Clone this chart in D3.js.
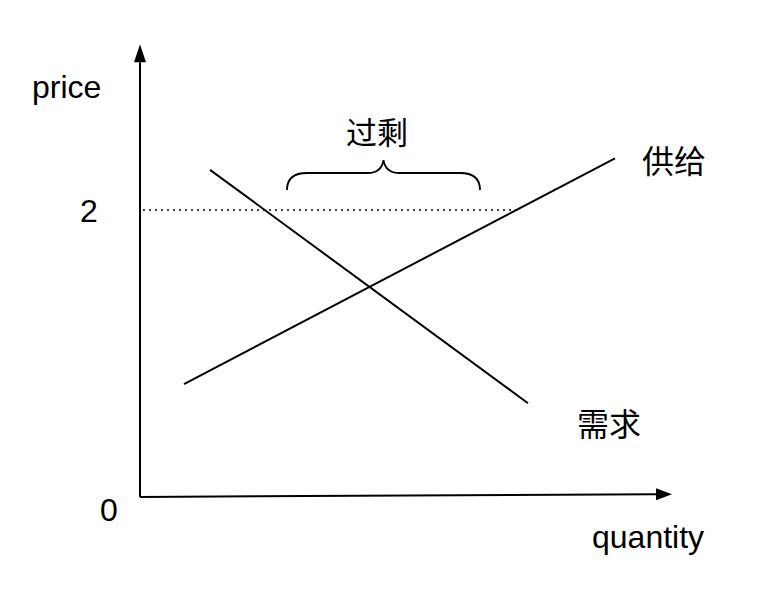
<!DOCTYPE html>
<html>
<head>
<meta charset="utf-8">
<script src="https://cdn.jsdelivr.net/npm/d3@7"></script>
<style>
html,body{margin:0;padding:0;background:#fff;}
svg{display:block;}
</style>
</head>
<body>
<svg id="chart" width="768" height="596"></svg>
<script>
// ---- data ----
const demandQ = [0.70, 3.88];
const demandP = [2.28, 0.653];
const supplyQ = [0.44, 4.75];
const supplyP = [0.787, 2.36];
const priceLevel = 2;
const priceLineQ = [0.03, 3.81];
const surplusQ = [1.47, 3.40];
const yTickValues = [0, 2];
const yTickLabels = ["0", "2"];
const axisLabels = ["price", "quantity"];
const curveLabels = ["供给", "需求"];
const surplusLabel = "过剩";

// ---- scales ----
const x = d3.scaleLinear().domain([0, 5.32]).range([140, 672]);
const y = d3.scaleLinear().domain([0, 2]).range([497, 210]);

const svg = d3.select("#chart");
const latin = "'Liberation Sans', Arial, sans-serif";
const cjk = "'Noto Sans CJK SC', sans-serif";
const line = d3.line().x(d => x(d[0])).y(d => y(d[1]));

// axes
const yTop = 3.155, yArrowBase = 3.03;
svg.append("path").attr("d", line([[0, 0], [0, yArrowBase]]))
  .attr("stroke", "#000").attr("stroke-width", 2).attr("fill", "none");
svg.append("path")
  .attr("d", `M${x(0)},${y(yTop)} L${x(0) - 6},${y(yArrowBase)} L${x(0) + 6},${y(yArrowBase)} Z`)
  .attr("fill", "#000");

const xEnd = 5.32, xArrowBase = 5.16, xTilt = 0.02;
svg.append("path").attr("d", line([[0, 0], [xArrowBase, xTilt]]))
  .attr("stroke", "#000").attr("stroke-width", 2).attr("fill", "none");
svg.append("path")
  .attr("d", `M${x(xEnd)},${y(xTilt)} L${x(xArrowBase)},${y(xTilt) - 6} L${x(xArrowBase)},${y(xTilt) + 6} Z`)
  .attr("fill", "#000");

// dotted price line
svg.append("path").attr("d", line([[priceLineQ[0], priceLevel], [priceLineQ[1], priceLevel]]))
  .attr("stroke", "#000").attr("stroke-width", 1.5).attr("stroke-dasharray", "2,4").attr("fill", "none");

// curves
svg.append("path").attr("d", line(demandQ.map((q, i) => [q, demandP[i]])))
  .attr("stroke", "#000").attr("stroke-width", 2).attr("fill", "none");
svg.append("path").attr("d", line(supplyQ.map((q, i) => [q, supplyP[i]])))
  .attr("stroke", "#000").attr("stroke-width", 2).attr("fill", "none");

// brace
const bx1 = x(surplusQ[0]), bx2 = x(surplusQ[1]), bm = (bx1 + bx2) / 2;
const by0 = y(2.14), by1 = y(2.258), by2 = y(2.348);
svg.append("path")
  .attr("d", `M${bx1},${by0} Q${bx1},${by1} ${bx1 + 20},${by1} L${bm - 16},${by1} Q${bm - 2},${by1} ${bm},${by2} Q${bm + 2},${by1} ${bm + 16},${by1} L${bx2 - 20},${by1} Q${bx2},${by1} ${bx2},${by0}`)
  .attr("stroke", "#000").attr("stroke-width", 1.8).attr("fill", "none");

// texts
svg.append("text").attr("x", 32).attr("y", 98).text(axisLabels[0])
  .attr("font-family", latin).attr("font-size", 32).attr("fill", "#000");
svg.append("text").attr("x", 592).attr("y", 548).text(axisLabels[1])
  .attr("font-family", latin).attr("font-size", 32).attr("fill", "#000");

svg.append("text").attr("x", 89).attr("y", y(yTickValues[1]) + 12).text(yTickLabels[1])
  .attr("text-anchor", "middle").attr("font-family", latin).attr("font-size", 32).attr("fill", "#000");
svg.append("text").attr("x", 109).attr("y", y(yTickValues[0]) + 24).text(yTickLabels[0])
  .attr("text-anchor", "middle").attr("font-family", latin).attr("font-size", 32).attr("fill", "#000");

svg.append("text").attr("x", 642).attr("y", 173).text(curveLabels[0])
  .attr("font-family", cjk).attr("font-size", 32).attr("fill", "#000");
svg.append("text").attr("x", 577).attr("y", 436).text(curveLabels[1])
  .attr("font-family", cjk).attr("font-size", 32).attr("fill", "#000");
svg.append("text").attr("x", 377).attr("y", 144).text(surplusLabel)
  .attr("text-anchor", "middle").attr("font-family", cjk).attr("font-size", 31).attr("fill", "#000");
</script>
</body>
</html>
